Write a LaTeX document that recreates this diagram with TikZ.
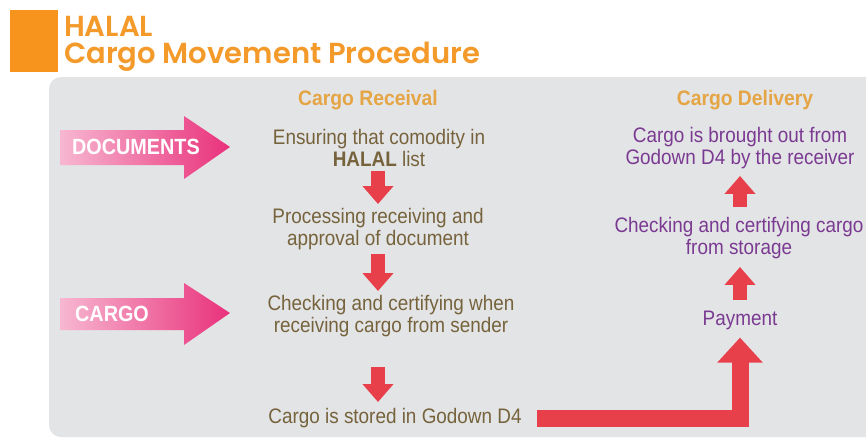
\documentclass[tikz,border=0pt]{standalone}
\usepackage{fontspec}
\setmainfont{Liberation Sans}
\newfontfamily\narrowfont[FakeStretch=0.9]{Liberation Sans}
\newfontfamily\hdrfont[FakeStretch=0.92]{Liberation Sans}
\newfontfamily\titlefont{Poppins SemiBold}
\usetikzlibrary{arrows.meta}
\definecolor{ttlorange}{HTML}{F39A2B}
\definecolor{sqorange}{HTML}{F7941D}
\definecolor{hdrorange}{HTML}{E5A544}
\definecolor{recvtext}{HTML}{76633C}
\definecolor{delvtext}{HTML}{7B3A92}
\definecolor{arrred}{HTML}{E8404B}
\definecolor{arrpink}{HTML}{E9317B}
\definecolor{panelgray}{HTML}{E3E4E6}
\begin{document}
\begin{tikzpicture}[x=1pt,y=-1pt,
  hdr/.style={font=\hdrfont\bfseries\fontsize{21}{22}\selectfont, text=hdrorange, inner sep=0pt},
  recv/.style={font=\narrowfont\fontsize{21}{22}\selectfont, text=recvtext, align=center, inner sep=0pt},
  delv/.style={recv, text=delvtext},
  blk/.style={draw=arrred, line width=14pt, -{Triangle[width=30pt,length=18pt]}},
  bigblk/.style={draw=arrred, line width=17pt, -{Triangle[width=44pt,length=25pt]}},
  tagtext/.style={font=\narrowfont\bfseries\fontsize{22}{24}\selectfont, text=white, inner sep=0pt, anchor=west},
  ttl/.style={anchor=base west, inner sep=0pt, font=\titlefont\fontsize{29}{30}\selectfont, text=ttlorange}
]
\useasboundingbox (0,0) rectangle (866,439);
\fill[white] (0,0) rectangle (866,439);
% panel
\fill[panelgray, rounded corners=12pt] (49,77) rectangle (900,437);
% title
\fill[sqorange] (10,10) rectangle (58,72);
\node[ttl] (t1) at (64,36) {HALAL};
\node[ttl] (t2) at (64,63) {Cargo Movement Procedure};
% pink arrows
\shade[left color=arrpink!35!white, right color=arrpink]
  (60,130) -- (184,130) -- (184,116) -- (230,147) -- (184,179) -- (184,165) -- (60,165) -- cycle;
\shade[left color=arrpink!35!white, right color=arrpink]
  (60,298) -- (184,298) -- (184,283) -- (230,313) -- (184,345) -- (184,330) -- (60,330) -- cycle;
\node[tagtext] (docs) at (72,147) {DOCUMENTS};
\node[tagtext] (cargo) at (75,314) {CARGO};
% receival column
\node[hdr] (rh) at (368,100) {Cargo Receival};
\node[recv] (r1) at (379,148) {Ensuring that comodity in\\\textbf{HALAL} list};
\node[recv] (r2) at (378,229) {Processing receiving and\\approval of document};
\node[recv] (r3) at (391,316) {Checking and certifying when\\receiving cargo from sender};
\node[recv] (r4) at (395,418) {Cargo is stored in Godown D4};
% delivery column
\node[hdr] (dh) at (745,100) {Cargo Delivery};
\node[delv] (d1) at (740,148) {Cargo is brought out from\\Godown D4 by the receiver};
\node[delv] (d2) at (739,238) {Checking and certifying cargo\\from storage};
\node[delv] (d3) at (740,320) {Payment};
% arrows
\draw[blk, shorten <=4pt, shorten >=4pt] (r2 |- r1.south) -- (r2.north);
\draw[blk, shorten <=4pt, shorten >=4pt] (r2) -- (r2 |- r3.north);
\draw[blk, shorten <=30pt, shorten >=6pt] (r2 |- r3.south) -- (r2 |- r4.north);
\draw[blk, shorten <=10pt, shorten >=8pt] (d3.north) -- (d3 |- d2.south);
\draw[blk, shorten <=10pt, shorten >=7pt] (d3 |- d2.north) -- (d3 |- d1.south);
\draw[bigblk, shorten >=8pt] ([xshift=15pt]r4.east) -| (d3.south);
\end{tikzpicture}
\end{document}
